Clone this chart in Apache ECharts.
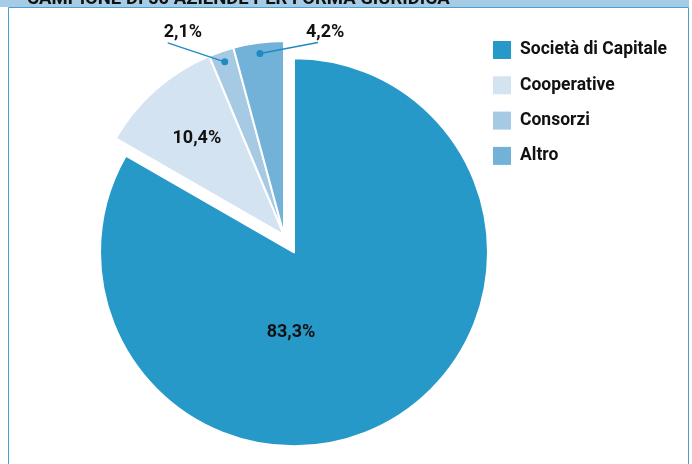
<!DOCTYPE html>
<html>
<head>
<meta charset="utf-8">
<script src="https://cdn.jsdelivr.net/npm/echarts@6/dist/echarts.min.js"></script>
<style>
  html, body { margin: 0; padding: 0; background: #fff; }
  #chart { width: 692px; height: 464px; }
</style>
</head>
<body>
<div id="chart"></div>
<script>
// Chart content
const titleText = 'CAMPIONE DI 50 AZIENDE PER FORMA GIURIDICA';
const categories = ['Società di Capitale', 'Cooperative', 'Consorzi', 'Altro'];
const shares = [83.3, 10.4, 2.1, 4.2];
const calloutIdx = [2, 3];           // thin slices labelled outside with a pointer

// Styling
const sliceColors = ['#2699c9', '#d4e3f1', '#a6cae4', '#72b1d8'];
const calloutColor = '#1e8bc3';
const FONT = 'Roboto, "DejaVu Sans Condensed", sans-serif';
const CX = 284, CY = 235, R = 194;   // pie centre and radius, px
const EXPLODE = 20;                  // offset of the pulled-out slice
const DOT_R = R - 11;                // callout dots sit just inside the rim

// Position of each slice's middle, as percent of the full turn
const total = shares.reduce((a, b) => a + b, 0);
const midPct = [];
let acc = 0;
shares.forEach(v => { midPct.push((acc + v / 2) / total * 100); acc += v; });

function fmt(v) { return v.toFixed(1).replace('.', ',') + '%'; }

function polarPoint(i, r, cx, cy) {
  const a = midPct[i] / 100 * 2 * Math.PI;
  return [cx + r * Math.sin(a), cy - r * Math.cos(a)];
}

// Centre of the pulled-out slice
const bigCentre = polarPoint(0, EXPLODE, CX, CY);

// Callout layout, relative to the dot on the slice
const callouts = [
  { end: [-57, -19], text: [-61, -29] },
  { end: [58, -11], text: [46, -21] }
];

const labelFont = { fontFamily: FONT, fontWeight: 'bold', fontSize: 18, color: '#111' };

const frame = [
  { type: 'rect', z: -10, shape: { x: 0, y: 0, width: 689, height: 7 }, style: { fill: '#a6cbe4' } },
  { type: 'rect', z: -10, shape: { x: 8.5, y: 7.5, width: 680, height: 470 },
    style: { fill: null, stroke: '#4d9fd2', lineWidth: 1 } }
];

const chart = echarts.init(document.getElementById('chart'), null, { renderer: 'canvas' });

chart.setOption({
  animation: false,
  title: {
    text: titleText,
    left: 22,
    top: -15,
    textStyle: { fontFamily: FONT, fontWeight: 'bold', fontSize: 18.5, color: '#111' }
  },
  graphic: frame,
  legend: {
    orient: 'vertical',
    left: 488,
    top: 36,
    itemWidth: 18,
    itemHeight: 18,
    itemGap: 17.3,
    icon: 'rect',
    selectedMode: false,
    itemStyle: { borderWidth: 0 },
    textStyle: Object.assign({}, labelFont, { fontSize: 17.5, lineHeight: 18, padding: [0, 0, 0, 4] }),
    data: categories.map((name, i) => ({ name: name, itemStyle: { color: sliceColors[i] } }))
  },
  polar: { center: [CX, CY], radius: R },
  angleAxis: { type: 'value', min: 0, max: 100, startAngle: 90, clockwise: true, show: false },
  radiusAxis: { type: 'value', min: 0, max: R, show: false },
  series: [
    {
      // all slices; the largest one is pulled out
      type: 'pie',
      center: [CX, CY],
      radius: R,
      startAngle: 90,
      clockwise: true,
      selectedMode: 'single',
      selectedOffset: EXPLODE,
      avoidLabelOverlap: false,
      itemStyle: { borderColor: '#fff', borderWidth: 2 },
      label: Object.assign({ position: 'inside', formatter: p => fmt(p.value) }, labelFont),
      labelLine: { show: false },
      emphasis: { disabled: true },
      data: categories.map((name, i) => {
        const item = { name: name, value: shares[i], itemStyle: { color: sliceColors[i] }, selected: i === 0 };
        if (i === 1) item.label = { offset: [-21, -21] };
        else item.label = { show: false };
        return item;
      })
    },
    {
      // transparent copy centred on the pulled-out slice, carrying its label
      type: 'pie',
      center: bigCentre,
      radius: R,
      startAngle: 90,
      clockwise: true,
      silent: true,
      legendHoverLink: false,
      avoidLabelOverlap: false,
      itemStyle: { color: 'rgba(0,0,0,0)', borderWidth: 0 },
      label: Object.assign({ position: 'inside', formatter: p => fmt(p.value) }, labelFont),
      labelLine: { show: false },
      labelLayout: function (p) {
        if (p.dataIndex === 0) {
          return { x: bigCentre[0] - 3, y: bigCentre[1] + 80, align: 'center', verticalAlign: 'middle' };
        }
        return {};
      },
      emphasis: { disabled: true },
      data: categories.map((name, i) => ({ name: name, value: shares[i], label: { show: i === 0 } }))
    },
    {
      // callout dots on the thin slices
      type: 'scatter',
      coordinateSystem: 'polar',
      z: 10,
      silent: true,
      symbolSize: 7,
      itemStyle: { color: calloutColor, opacity: 1 },
      label: Object.assign({
        show: true,
        position: 'top',
        formatter: p => fmt(shares[calloutIdx[p.dataIndex]])
      }, labelFont),
      labelLayout: function (p) {
        const c = callouts[p.dataIndex];
        const P = polarPoint(calloutIdx[p.dataIndex], DOT_R, CX, CY);
        return { x: P[0] + c.text[0], y: P[1] + c.text[1], align: 'left', verticalAlign: 'middle' };
      },
      data: calloutIdx.map(i => [DOT_R, midPct[i]])
    }
  ]
});

// Pointer lines from each dot out to its label
const pointerLines = calloutIdx.map((i, k) => {
  const P = chart.convertToPixel({ seriesIndex: 2 }, [DOT_R, midPct[i]]);
  const c = callouts[k];
  return {
    type: 'polyline',
    z: 20,
    silent: true,
    shape: { points: [P, [P[0] + c.end[0], P[1] + c.end[1]]] },
    style: { stroke: calloutColor, lineWidth: 1.5, fill: null }
  };
});

chart.setOption({ graphic: frame.concat(pointerLines) }, { replaceMerge: ['graphic'] });
</script>
</body>
</html>
